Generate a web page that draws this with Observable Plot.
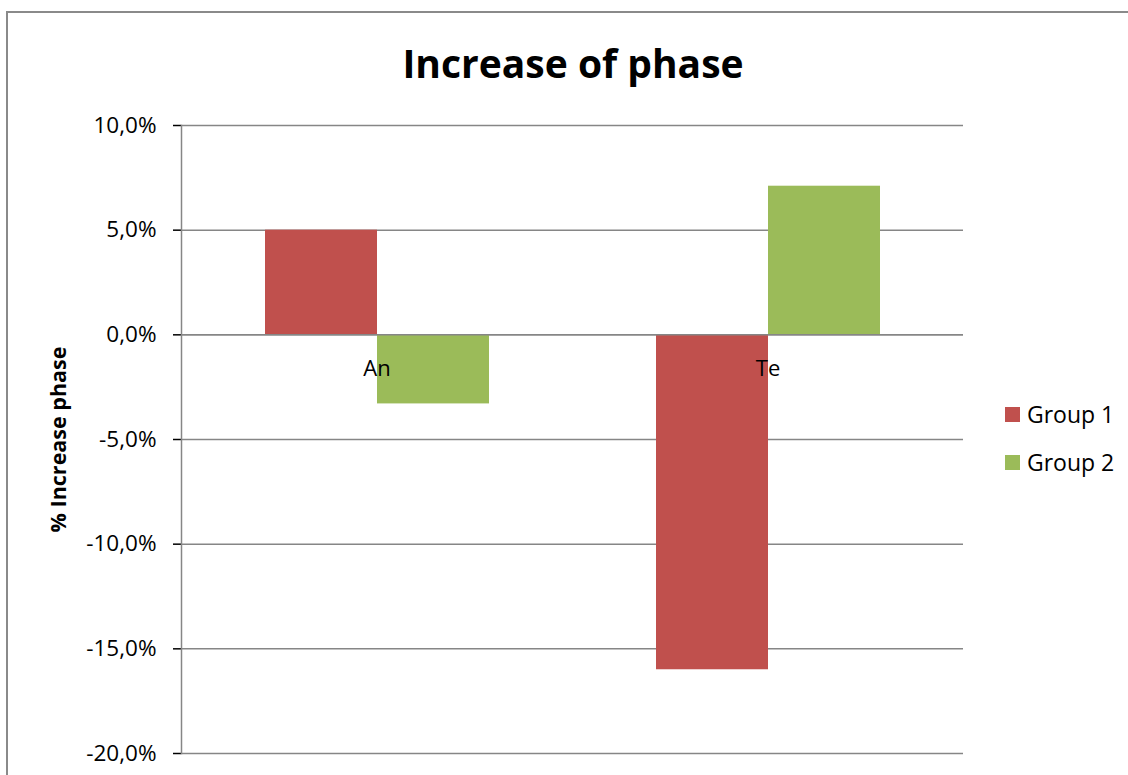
<!DOCTYPE html>
<html><head><meta charset="utf-8">
<script src="https://cdn.jsdelivr.net/npm/d3@7"></script>
<script src="https://cdn.jsdelivr.net/npm/@observablehq/plot@0.6"></script>
<style>
html,body{margin:0;padding:0;background:#fff;overflow:hidden}
#wrap{position:relative;width:1128px;height:775px;overflow:hidden;font-family:"Open Sans",sans-serif;color:#000}
#border{position:absolute;left:6px;top:11px;width:1300px;height:900px;border:2px solid #8a8a8a}
#title{position:absolute;left:0;width:1146px;top:43px;text-align:center;font-weight:bold;font-size:39px;line-height:39px}
#chart{position:absolute;left:0;top:0}
#legend{position:absolute;left:1005px;top:403px;font-size:23px;line-height:22px}
#legend .item{display:flex;align-items:center;height:22px;margin-bottom:26px}
#legend .sw{width:15px;height:15px;margin-right:7px}
#chart [aria-label="y-axis tick"]{stroke:#868686;stroke-width:1.5px}
#chart [aria-label="y-axis tick label"]{font-size:22.5px}
#chart [aria-label="y-axis label"]{font-weight:bold;font-size:21.5px}
</style>
</head><body>
<div id="wrap">
  <div id="border"></div>
  <div id="chart"></div>
  <div id="title">Increase of phase</div>
  <div id="legend"></div>
</div>
<script>
const categories = ["An", "Te"];
const groups = ["Group 1", "Group 2"];
const group1 = [5.0, -16.0];
const group2 = [-3.3, 7.1];
const yTicks = [-20, -15, -10, -5, 0, 5, 10];
const colors = ["#C0504D", "#9BBB59"];
const titleText = "Increase of phase";
const yLabel = "% Increase phase";

const rows = categories.flatMap((c, i) => [
  {category: c, group: groups[0], value: group1[i]},
  {category: c, group: groups[1], value: group2[i]}
]);

const fmt = d => d.toFixed(1).replace(".", ",") + "%";

const chart = Plot.plot({
  width: 1128,
  height: 775,
  marginTop: 125,
  marginBottom: 22,
  marginLeft: 180,
  marginRight: 165,
  style: {fontFamily: "Open Sans", fontSize: "22px", color: "#000", background: "transparent", overflow: "visible"},
  fx: {domain: categories, padding: 0, axis: null, label: null},
  x: {domain: groups, paddingInner: 0, paddingOuter: 0.74, axis: null},
  y: {domain: [-20, 10], ticks: yTicks, tickSize: 8, tickPadding: 17, tickFormat: fmt,
      label: yLabel, labelAnchor: "center", labelOffset: 131, labelArrow: "none"},
  color: {domain: groups, range: colors},
  marks: [
    Plot.ruleY(yTicks, {stroke: "#868686", strokeWidth: 1.5}),
    Plot.barY(rows, {fx: "category", x: "group", y: "value", fill: "group"}),
    Plot.ruleY([0], {stroke: "#868686", strokeWidth: 1.5}),
    Plot.text(categories, {fx: d => d, y: () => 0, text: d => d, dy: 34, fontSize: 22}),
    Plot.frame({anchor: "left", stroke: "#868686", strokeWidth: 1.5, fx: ["An"]})
  ]
});
document.getElementById("chart").appendChild(chart);
document.getElementById("title").textContent = titleText;

const legend = document.getElementById("legend");
groups.forEach((g, i) => {
  const item = document.createElement("div");
  item.className = "item";
  const sw = document.createElement("span");
  sw.className = "sw";
  sw.style.background = colors[i];
  const t = document.createElement("span");
  t.textContent = g;
  item.appendChild(sw);
  item.appendChild(t);
  legend.appendChild(item);
});
</script>
</body></html>
